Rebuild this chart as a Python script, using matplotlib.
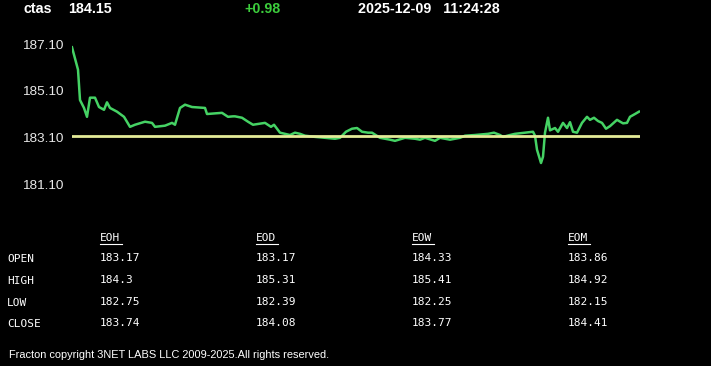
import matplotlib
matplotlib.use("Agg")
import matplotlib.pyplot as plt

# header
symbol = "ctas"
last_price = "184.15"
change = "+0.98"
stamp = "2025-12-09   11:24:28"

# intraday trace (tick index, price)
ticks = [0, 6, 8, 12, 15, 18, 23, 27, 32, 35, 38, 45, 52, 58, 63, 73, 80, 83, 93, 100,
         103, 108, 113, 120, 133, 135, 150, 156, 161, 163, 170, 176, 181, 193, 199, 202,
         208, 218, 223, 228, 233, 243, 253, 263, 268, 274, 280, 285, 290, 296, 300, 308,
         318, 323, 333, 343, 348, 353, 363, 368, 378, 388, 393, 403, 416, 422, 428, 431,
         438, 443, 453, 461, 463, 465, 469, 471, 473, 476, 478, 483, 486, 491, 495, 498,
         501, 505, 510, 515, 518, 522, 526, 530, 534, 538, 545, 551, 555, 558, 563, 567]
price = [186.96, 186.0, 184.7, 184.36, 183.98, 184.8, 184.8, 184.4, 184.28, 184.6, 184.36,
         184.2, 183.98, 183.55, 183.64, 183.77, 183.72, 183.55, 183.6, 183.72, 183.64,
         184.36, 184.5, 184.4, 184.36, 184.1, 184.15, 183.98, 184.0, 184.0, 183.94,
         183.77, 183.64, 183.72, 183.55, 183.64, 183.3, 183.2, 183.3, 183.25, 183.17,
         183.12, 183.08, 183.04, 183.08, 183.34, 183.47, 183.5, 183.34, 183.3, 183.3,
         183.08, 183.0, 182.95, 183.08, 183.04, 183.0, 183.08, 182.95, 183.08, 183.0,
         183.08, 183.17, 183.2, 183.25, 183.3, 183.2, 183.12, 183.2, 183.25, 183.3,
         183.34, 183.17, 182.57, 182.0, 182.27, 183.3, 183.94, 183.4, 183.5, 183.34,
         183.72, 183.5, 183.75, 183.34, 183.3, 183.72, 183.98, 183.85, 183.94, 183.8,
         183.72, 183.47, 183.58, 183.85, 183.7, 183.72, 183.98, 184.1, 184.2]
prev_close = 183.17
yticks = [181.10, 183.10, 185.10, 187.10]

# stats table
periods = ["EOH", "EOD", "EOW", "EOM"]
rows = ["OPEN", "HIGH", "LOW", "CLOSE"]
stats = [["183.17", "183.17", "184.33", "183.86"],
         ["184.3", "185.31", "185.41", "184.92"],
         ["182.75", "182.39", "182.25", "182.15"],
         ["183.74", "184.08", "183.77", "184.41"]]

W, H = 711, 366
fig = plt.figure(figsize=(W / 100, H / 100), dpi=100, facecolor="black")

def px(x, y):
    return x / W, 1 - y / H

# chart area: x 72..640, y 30..200 px
ax = fig.add_axes([72 / W, 1 - 200 / H, 568 / W, 170 / H], facecolor="black")
ax.plot(ticks, price, color="#45d264", lw=1.8, solid_joinstyle="round")
ax.axhline(prev_close, color="#e4eb98", lw=2)
ax.set_xlim(0, 568)
ax.set_ylim(180.415, 187.70)
ax.set_yticks(yticks)
ax.set_yticklabels(["%.2f" % v for v in yticks])
ax.set_xticks([])
ax.tick_params(axis="y", length=0, pad=6, labelcolor="#e8e8e8", labelsize=9.7)
for lbl in ax.get_yticklabels():
    lbl.set_family("Liberation Sans")
for s in ax.spines.values():
    s.set_visible(False)

# header line
hdr = dict(color="white", fontsize=10.3, fontweight="bold", family="Liberation Sans", va="center")
fig.text(*px(23, 9), symbol, **hdr)
fig.text(*px(68, 9), last_price, **hdr)
fig.text(*px(244, 9), change, **{**hdr, "color": "#3ccc3c"})
fig.text(*px(358, 9), stamp, **hdr)

# table
mono = dict(color="white", fontsize=8, family="DejaVu Sans Mono", va="center")
cols = [100, 256, 412, 568]
for c, p in zip(cols, periods):
    fig.text(*px(c, 238), p, **mono)
    fig.add_artist(plt.Line2D([c / W, (c + 22) / W], [1 - 243.5 / H] * 2, color="white", lw=0.8))
row_y = [259, 281, 303, 324]
for ry, r, vals in zip(row_y, rows, stats):
    fig.text(*px(7, ry), r, **mono)
    for c, v in zip(cols, vals):
        fig.text(*px(c, ry - 1), v, **mono)

fig.text(*px(9, 355), "Fracton copyright 3NET LABS LLC 2009-2025.All rights reserved.",
         color="white", fontsize=7.9, family="Liberation Sans", va="center")

fig.savefig("out.png", dpi=100, facecolor="black")
